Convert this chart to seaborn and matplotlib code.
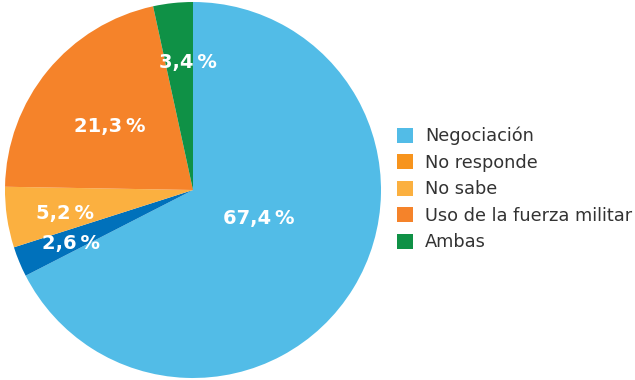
import numpy as np
import matplotlib
matplotlib.use("Agg")
import matplotlib.pyplot as plt
import seaborn as sns
from matplotlib.patches import Patch

sns.set_theme(style="white")
plt.rcParams["font.family"] = ["DejaVu Sans"]

# data
categories = ["Negociación", "No responde", "No sabe", "Uso de la fuerza militar", "Ambas"]
values = [67.4, 2.6, 5.2, 21.3, 3.4]
labels = ["67,4\u2009%", "2,6\u2009%", "5,2\u2009%", "21,3\u2009%", "3,4\u2009%"]

# wedge colours (as drawn) and legend colours (as in the key)
wedge_colors = ["#52bce7", "#0071bb", "#fbb040", "#f5832a", "#0f9146"]
legend_colors = ["#52bce7", "#f7941d", "#fbb040", "#f5832a", "#0f9146"]

# label placement along each wedge's mid angle
label_dist = [0.38, 0.71, 0.69, 0.56, 0.68]
label_shift = [8, 1, 2, 2, -4]

fig = plt.figure(figsize=(6.35, 3.8), dpi=100)
ax = fig.add_axes([5 / 635, 2 / 380, 376 / 635, 376 / 380])

wedges, _ = ax.pie(values, colors=wedge_colors, startangle=90,
                   counterclock=False, radius=1,
                   wedgeprops=dict(linewidth=0))
ax.set_aspect("equal")
ax.set_xlim(-1, 1)
ax.set_ylim(-1, 1)

for w, lab, d, s in zip(wedges, labels, label_dist, label_shift):
    mid = np.deg2rad((w.theta1 + w.theta2) / 2 + s)
    ax.text(d * np.cos(mid), d * np.sin(mid), lab, ha="center", va="center",
            color="white", fontsize=14, fontweight="bold")

handles = [Patch(facecolor=c, edgecolor="none") for c in legend_colors]
fig.legend(handles, categories, loc="center left",
           bbox_to_anchor=(397 / 635, 1 - 189 / 380), frameon=False,
           fontsize=12.8, handlelength=0.92, handleheight=0.92,
           handletextpad=0.65, labelspacing=0.48, labelcolor="#333333",
           borderpad=0, borderaxespad=0)

fig.savefig("out.png", dpi=100, facecolor="white")
